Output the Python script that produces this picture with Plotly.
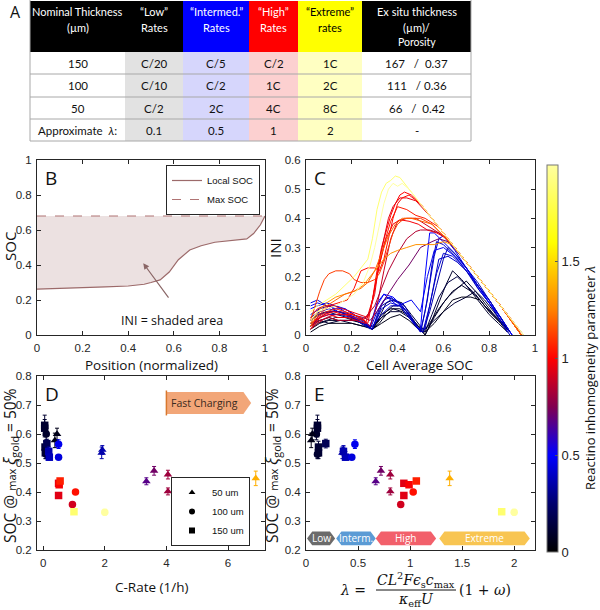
import plotly.graph_objects as go
from plotly.colors import sample_colorscale

# ------------------------------------------------------------------ data
table_header = [["Nominal Thickness", "(µm)"], ["“Low”", "Rates"], ["“Intermed.”", "Rates"],
                ["“High”", "Rates"], ["“Extreme”", "rates"], ["Ex situ thickness", "(µm)/", "Porosity"]]
table_rows = [["150", "C/20", "C/5", "C/2", "1C", "167   /  0.37"],
              ["100", "C/10", "C/2", "1C", "2C", "111   / 0.36"],
              ["50", "C/2", "2C", "4C", "8C", "66   /  0.42"],
              ["Approximate  <i>λ</i>:", "0.1", "0.5", "1", "2", "-"]]

b_position = [0, 0.1, 0.2, 0.3, 0.4, 0.47, 0.5, 0.54, 0.58, 0.62, 0.67, 0.72, 0.78, 0.85, 0.92, 0.95, 0.98, 1.0]
b_local_soc = [0.262, 0.265, 0.27, 0.275, 0.28, 0.29, 0.30, 0.315, 0.36, 0.43, 0.486, 0.51, 0.53, 0.54, 0.549, 0.58, 0.63, 0.68]
b_max_soc = 0.68

c_lambda = [0.10, 0.08, 0.12, 0.05, 0.15, 0.09,
            0.45, 0.38, 0.50, 0.42, 0.36, 0.48, 0.40,
            0.72,
            1.00, 0.95, 1.05, 0.90, 0.98, 0.85, 1.12, 1.02,
            1.30, 1.20,
            1.88, 2.00]
c_soc = [
    [0.02, 0.05, 0.09, 0.13, 0.17, 0.21, 0.25, 0.29, 0.32, 0.35, 0.38, 0.41, 0.44, 0.47, 0.50, 0.52, 0.55, 0.58, 0.61, 0.64, 0.68, 0.72, 0.76, 0.80, 0.84, 0.88],
    [0.02, 0.06, 0.10, 0.14, 0.18, 0.22, 0.26, 0.29, 0.32, 0.35, 0.38, 0.42, 0.46, 0.49, 0.51, 0.54, 0.58, 0.62, 0.66, 0.70, 0.74, 0.78, 0.82, 0.86, 0.89],
    [0.02, 0.06, 0.10, 0.15, 0.20, 0.25, 0.29, 0.33, 0.37, 0.41, 0.45, 0.49, 0.52, 0.56, 0.60, 0.65, 0.70, 0.74, 0.78, 0.82, 0.86, 0.89],
    [0.02, 0.06, 0.10, 0.15, 0.20, 0.25, 0.29, 0.33, 0.37, 0.41, 0.45, 0.49, 0.52, 0.56, 0.60, 0.64, 0.68, 0.72, 0.76, 0.80, 0.85, 0.88],
    [0.02, 0.05, 0.09, 0.13, 0.18, 0.23, 0.27, 0.29, 0.32, 0.35, 0.38, 0.42, 0.46, 0.50, 0.52, 0.55, 0.58, 0.62, 0.66, 0.70, 0.74, 0.78, 0.82, 0.86, 0.89],
    [0.02, 0.06, 0.10, 0.15, 0.20, 0.25, 0.29, 0.33, 0.37, 0.41, 0.45, 0.49, 0.52, 0.56, 0.60, 0.64, 0.68, 0.72, 0.76, 0.80, 0.84, 0.88],
    [0.02, 0.05, 0.09, 0.13, 0.17, 0.21, 0.25, 0.28, 0.31, 0.34, 0.37, 0.40, 0.44, 0.48, 0.50, 0.52, 0.54, 0.56, 0.58, 0.60, 0.65, 0.70, 0.75, 0.80, 0.85, 0.90],
    [0.02, 0.06, 0.10, 0.14, 0.18, 0.22, 0.26, 0.29, 0.32, 0.35, 0.39, 0.43, 0.47, 0.50, 0.53, 0.55, 0.57, 0.60, 0.65, 0.70, 0.75, 0.80, 0.85, 0.89],
    [0.02, 0.05, 0.09, 0.13, 0.17, 0.21, 0.25, 0.28, 0.31, 0.34, 0.38, 0.42, 0.45, 0.48, 0.50, 0.52, 0.54, 0.56, 0.60, 0.65, 0.70, 0.75, 0.80, 0.85, 0.90],
    [0.02, 0.06, 0.10, 0.14, 0.18, 0.22, 0.26, 0.29, 0.33, 0.37, 0.41, 0.45, 0.49, 0.51, 0.54, 0.57, 0.60, 0.64, 0.68, 0.72, 0.76, 0.80, 0.84, 0.88],
    [0.02, 0.06, 0.10, 0.15, 0.20, 0.25, 0.29, 0.33, 0.37, 0.41, 0.45, 0.49, 0.51, 0.54, 0.57, 0.60, 0.62, 0.66, 0.70, 0.75, 0.80, 0.85, 0.89],
    [0.02, 0.05, 0.09, 0.13, 0.17, 0.21, 0.25, 0.28, 0.31, 0.34, 0.37, 0.40, 0.43, 0.46, 0.48, 0.50, 0.53, 0.56, 0.60, 0.65, 0.70, 0.75, 0.80, 0.85, 0.90],
    [0.02, 0.06, 0.10, 0.15, 0.20, 0.25, 0.29, 0.33, 0.37, 0.41, 0.45, 0.49, 0.52, 0.55, 0.58, 0.62, 0.66, 0.70, 0.75, 0.80, 0.85, 0.89],
    [0.02, 0.06, 0.10, 0.15, 0.20, 0.25, 0.28, 0.31, 0.35, 0.40, 0.45, 0.50, 0.55, 0.58, 0.62, 0.70, 0.80, 0.90, 0.95],
    [0.02, 0.05, 0.08, 0.12, 0.16, 0.20, 0.24, 0.27, 0.29, 0.31, 0.33, 0.35, 0.37, 0.39, 0.41, 0.43, 0.46, 0.50, 0.55, 0.60, 0.65, 0.70, 0.75, 0.80, 0.85, 0.90, 0.94],
    [0.02, 0.05, 0.08, 0.12, 0.16, 0.20, 0.24, 0.27, 0.30, 0.32, 0.34, 0.36, 0.38, 0.41, 0.44, 0.48, 0.55, 0.65, 0.75, 0.85, 0.94],
    [0.02, 0.05, 0.09, 0.13, 0.17, 0.21, 0.25, 0.28, 0.31, 0.34, 0.37, 0.40, 0.44, 0.48, 0.52, 0.58, 0.65, 0.75, 0.85, 0.94],
    [0.02, 0.05, 0.09, 0.13, 0.17, 0.21, 0.25, 0.28, 0.31, 0.34, 0.37, 0.40, 0.44, 0.48, 0.52, 0.56, 0.60, 0.65, 0.75, 0.85, 0.94],
    [0.02, 0.06, 0.10, 0.14, 0.18, 0.22, 0.26, 0.29, 0.32, 0.35, 0.38, 0.41, 0.45, 0.49, 0.53, 0.57, 0.62, 0.70, 0.80, 0.90, 0.94],
    [0.02, 0.06, 0.10, 0.14, 0.18, 0.22, 0.26, 0.30, 0.33, 0.36, 0.40, 0.44, 0.48, 0.50, 0.54, 0.58, 0.64, 0.72, 0.80, 0.88, 0.94],
    [0.02, 0.04, 0.06, 0.08, 0.10, 0.13, 0.16, 0.19, 0.21, 0.24, 0.27, 0.30, 0.32, 0.34, 0.36, 0.38, 0.40, 0.43, 0.46, 0.50, 0.55, 0.65, 0.75, 0.85, 0.94],
    [0.02, 0.06, 0.10, 0.14, 0.18, 0.21, 0.24, 0.27, 0.30, 0.32, 0.34, 0.36, 0.38, 0.40, 0.42, 0.45, 0.50, 0.58, 0.65, 0.75, 0.85, 0.94],
    [0.02, 0.05, 0.09, 0.13, 0.17, 0.21, 0.25, 0.28, 0.31, 0.34, 0.37, 0.40, 0.44, 0.48, 0.52, 0.56, 0.60, 0.64, 0.70, 0.78, 0.86, 0.94],
    [0.02, 0.05, 0.09, 0.13, 0.17, 0.21, 0.24, 0.27, 0.30, 0.33, 0.36, 0.39, 0.42, 0.46, 0.50, 0.55, 0.65, 0.75, 0.85, 0.94],
    [0.02, 0.05, 0.09, 0.13, 0.17, 0.21, 0.25, 0.27, 0.29, 0.31, 0.33, 0.35, 0.37, 0.39, 0.41, 0.43, 0.46, 0.50, 0.55, 0.65, 0.75, 0.85, 0.95],
    [0.02, 0.05, 0.09, 0.13, 0.17, 0.21, 0.25, 0.28, 0.30, 0.32, 0.34, 0.36, 0.38, 0.40, 0.42, 0.45, 0.50, 0.60, 0.70, 0.80, 0.90, 0.95],
]
c_ini = [
    [0.02, 0.04, 0.05, 0.06, 0.06, 0.05, 0.04, 0.02, 0.05, 0.08, 0.10, 0.10, 0.08, 0.05, 0.02, 0.00, 0.05, 0.11, 0.17, 0.22, 0.19, 0.15, 0.11, 0.07, 0.04, 0.01],
    [0.03, 0.05, 0.06, 0.05, 0.05, 0.05, 0.03, 0.02, 0.04, 0.07, 0.09, 0.08, 0.06, 0.02, 0.01, 0.04, 0.09, 0.13, 0.16, 0.185, 0.15, 0.11, 0.07, 0.04, 0.01],
    [0.04, 0.05, 0.04, 0.05, 0.04, 0.03, 0.03, 0.06, 0.08, 0.08, 0.06, 0.03, 0.02, 0.05, 0.08, 0.11, 0.13, 0.15, 0.12, 0.08, 0.04, 0.01],
    [0.01, 0.03, 0.04, 0.04, 0.04, 0.03, 0.02, 0.04, 0.06, 0.07, 0.05, 0.02, 0.01, 0.04, 0.08, 0.12, 0.13, 0.13, 0.12, 0.08, 0.04, 0.01],
    [0.05, 0.07, 0.08, 0.07, 0.06, 0.05, 0.03, 0.02, 0.06, 0.11, 0.12, 0.11, 0.07, 0.03, 0.01, 0.07, 0.13, 0.18, 0.20, 0.17, 0.14, 0.10, 0.07, 0.04, 0.01],
    [0.02, 0.04, 0.05, 0.05, 0.05, 0.04, 0.02, 0.07, 0.09, 0.09, 0.07, 0.03, 0.00, 0.06, 0.11, 0.15, 0.17, 0.15, 0.12, 0.08, 0.05, 0.02],
    [0.11, 0.12, 0.10, 0.10, 0.09, 0.07, 0.05, 0.02, 0.08, 0.12, 0.13, 0.11, 0.08, 0.03, 0.01, 0.08, 0.18, 0.27, 0.33, 0.34, 0.29, 0.23, 0.17, 0.12, 0.06, 0.00],
    [0.07, 0.09, 0.10, 0.08, 0.07, 0.06, 0.04, 0.02, 0.09, 0.13, 0.12, 0.10, 0.05, 0.01, 0.12, 0.24, 0.32, 0.31, 0.27, 0.22, 0.16, 0.11, 0.05, 0.00],
    [0.09, 0.10, 0.11, 0.10, 0.08, 0.06, 0.04, 0.03, 0.10, 0.14, 0.13, 0.10, 0.07, 0.03, 0.02, 0.20, 0.35, 0.35, 0.32, 0.28, 0.23, 0.17, 0.11, 0.06, 0.00],
    [0.06, 0.08, 0.09, 0.08, 0.07, 0.05, 0.03, 0.02, 0.09, 0.11, 0.10, 0.06, 0.02, 0.01, 0.10, 0.21, 0.28, 0.27, 0.24, 0.20, 0.15, 0.11, 0.06, 0.01],
    [0.05, 0.07, 0.08, 0.08, 0.06, 0.04, 0.02, 0.10, 0.12, 0.11, 0.07, 0.02, 0.01, 0.08, 0.17, 0.26, 0.30, 0.27, 0.23, 0.18, 0.12, 0.06, 0.01],
    [0.10, 0.11, 0.10, 0.09, 0.09, 0.07, 0.05, 0.03, 0.11, 0.14, 0.12, 0.10, 0.11, 0.12, 0.10, 0.08, 0.20, 0.29, 0.30, 0.27, 0.23, 0.17, 0.11, 0.06, 0.00],
    [0.04, 0.06, 0.07, 0.07, 0.06, 0.04, 0.03, 0.07, 0.10, 0.10, 0.06, 0.02, 0.02, 0.14, 0.26, 0.27, 0.25, 0.22, 0.17, 0.12, 0.06, 0.01],
    [0.03, 0.06, 0.08, 0.08, 0.07, 0.06, 0.05, 0.08, 0.13, 0.19, 0.24, 0.30, 0.32, 0.33, 0.32, 0.25, 0.15, 0.05, 0.00],
    [0.02, 0.05, 0.07, 0.08, 0.07, 0.07, 0.06, 0.04, 0.12, 0.22, 0.30, 0.36, 0.41, 0.45, 0.48, 0.49, 0.48, 0.45, 0.40, 0.35, 0.30, 0.25, 0.20, 0.15, 0.10, 0.05, 0.00],
    [0.06, 0.09, 0.10, 0.10, 0.09, 0.08, 0.07, 0.06, 0.14, 0.25, 0.33, 0.40, 0.44, 0.47, 0.47, 0.46, 0.40, 0.30, 0.20, 0.10, 0.00],
    [0.03, 0.06, 0.08, 0.09, 0.08, 0.07, 0.05, 0.08, 0.20, 0.31, 0.39, 0.44, 0.43, 0.41, 0.40, 0.37, 0.30, 0.20, 0.10, 0.00],
    [0.02, 0.04, 0.06, 0.07, 0.07, 0.06, 0.05, 0.03, 0.10, 0.22, 0.33, 0.39, 0.40, 0.40, 0.38, 0.36, 0.34, 0.30, 0.20, 0.10, 0.00],
    [0.04, 0.06, 0.07, 0.06, 0.06, 0.05, 0.04, 0.12, 0.24, 0.33, 0.38, 0.395, 0.39, 0.38, 0.36, 0.35, 0.33, 0.25, 0.15, 0.05, 0.00],
    [0.03, 0.05, 0.06, 0.05, 0.05, 0.05, 0.06, 0.10, 0.16, 0.22, 0.28, 0.33, 0.355, 0.36, 0.36, 0.35, 0.31, 0.23, 0.15, 0.07, 0.00],
    [0.05, 0.10, 0.15, 0.19, 0.21, 0.22, 0.22, 0.21, 0.19, 0.18, 0.18, 0.19, 0.21, 0.25, 0.30, 0.35, 0.38, 0.40, 0.40, 0.40, 0.38, 0.30, 0.20, 0.10, 0.00],
    [0.03, 0.07, 0.10, 0.11, 0.12, 0.16, 0.22, 0.23, 0.23, 0.22, 0.26, 0.33, 0.40, 0.45, 0.47, 0.48, 0.45, 0.37, 0.30, 0.20, 0.10, 0.00],
    [0.04, 0.08, 0.11, 0.13, 0.14, 0.15, 0.17, 0.20, 0.23, 0.26, 0.28, 0.29, 0.30, 0.31, 0.31, 0.31, 0.32, 0.31, 0.25, 0.17, 0.09, 0.00],
    [0.03, 0.07, 0.10, 0.12, 0.14, 0.15, 0.16, 0.18, 0.22, 0.28, 0.34, 0.38, 0.40, 0.40, 0.39, 0.38, 0.30, 0.20, 0.10, 0.00],
    [0.08, 0.10, 0.12, 0.14, 0.17, 0.20, 0.24, 0.26, 0.33, 0.43, 0.49, 0.52, 0.53, 0.545, 0.54, 0.52, 0.49, 0.45, 0.40, 0.30, 0.20, 0.10, 0.00],
    [0.05, 0.08, 0.09, 0.10, 0.12, 0.14, 0.18, 0.24, 0.30, 0.38, 0.45, 0.50, 0.52, 0.51, 0.52, 0.50, 0.45, 0.35, 0.25, 0.15, 0.05, 0.00],
]

pt_rate = [0.05, 0.05, 0.06, 0.07, 0.10, 0.10, 0.12, 0.45, 0.38, 0.18, 0.20, 0.50, 0.50, 1.90, 1.92,
           3.35, 3.60, 4.05, 4.05, 0.95, 1.05, 0.50, 0.50, 0.52, 0.55, 6.90, 1.00, 2.00]
pt_lambda = [0.11, 0.11, 0.12, 0.12, 0.10, 0.11, 0.19, 0.06, 0.05, 0.36, 0.38, 0.47, 0.44, 0.35, 0.36,
             0.67, 0.72, 0.81, 0.81, 0.91, 1.03, 0.94, 0.94, 0.99, 1.06, 1.38, 1.88, 2.00]
pt_soc = [0.630, 0.620, 0.555, 0.535, 0.600, 0.530, 0.567, 0.600, 0.578, 0.540, 0.520, 0.565, 0.520, 0.535, 0.545,
          0.437, 0.473, 0.460, 0.402, 0.357, 0.400, 0.430, 0.388, 0.425, 0.438, 0.447, 0.332, 0.330]
pt_err = [0.035, 0.030, 0.020, 0.020, 0.020, 0.015, 0.015, 0.020, 0.025, 0.015, 0.010, 0.015, 0.008, 0.020, 0.015,
          0.012, 0.015, 0.015, 0.012, 0.008, 0.006, 0.006, 0.008, 0.006, 0.008, 0.025, 0.008, 0.010]
pt_thick = [150, 150, 150, 150, 100, 100, 150, 50, 50, 150, 150, 100, 100, 50, 50,
            50, 50, 50, 50, 100, 100, 150, 150, 150, 150, 50, 150, 100]

thick_names = ["50 um", "100 um", "150 um"]
thick_values = [50, 100, 150]
thick_symbols = ["triangle-up", "circle", "square"]

band_names = ["Low", "Interm.", "High", "Extreme"]
band_start = [0.01, 0.29, 0.67, 1.28]
band_end = [0.28, 0.67, 1.25, 2.15]
band_colors = ["#6b6b6b", "#5b9bd5", "#f2606b", "#f8c552"]

# ------------------------------------------------------------------ styling helpers
cscale = [[0, "rgb(0,0,0)"], [0.125, "rgb(0,0,110)"], [0.25, "rgb(0,0,255)"], [0.375, "rgb(128,0,80)"],
          [0.5, "rgb(255,0,0)"], [0.625, "rgb(255,128,0)"], [0.8, "rgb(255,255,0)"], [1, "rgb(255,255,160)"]]
LMAX = 2.0


def lam_color(v):
    return sample_colorscale(cscale, [min(max(v / LMAX, 0), 1)])[0]


W, H = 600, 610


def px(x):
    return x / W


def py(y):
    return 1 - y / H


TICKFONT = dict(family="Liberation Sans, Arial", size=11.5, color="#262626")
TITLEFONT = dict(family="Open Sans", size=13.5, color="#111111")
TABFONT = "Lato, Open Sans"

fig = go.Figure()

# ------------------------------------------------------------------ panel B
fig.add_trace(go.Scatter(x=[b_position[0], b_position[-1]], y=[b_max_soc, b_max_soc], mode="lines",
                         line=dict(color="#b07474", width=1.2, dash="dash"), name="Max SOC",
                         legendrank=2, xaxis="x", yaxis="y"))
fig.add_trace(go.Scatter(x=b_position, y=b_local_soc, mode="lines", line=dict(width=0),
                         fill="tonexty", fillcolor="rgba(220,200,200,0.55)", showlegend=False,
                         hoverinfo="skip", xaxis="x", yaxis="y"))
fig.add_trace(go.Scatter(x=b_position, y=b_local_soc, mode="lines", line=dict(color="#9c6a6a", width=1.2),
                         name="Local SOC", legendrank=1, xaxis="x", yaxis="y"))

# ------------------------------------------------------------------ panel C
for lam, xs, ys in zip(c_lambda, c_soc, c_ini):
    fig.add_trace(go.Scatter(x=xs, y=ys, mode="lines", line=dict(color=lam_color(lam), width=1),
                             showlegend=False, xaxis="x2", yaxis="y2", hoverinfo="skip"))

# ------------------------------------------------------------------ panels D & E
sym = dict(zip(thick_values, thick_symbols))
for r, lam, s, e, t in zip(pt_rate, pt_lambda, pt_soc, pt_err, pt_thick):
    col = lam_color(lam)
    for xv, xa, ya in [(r, "x3", "y3"), (lam, "x4", "y4")]:
        fig.add_trace(go.Scatter(x=[xv], y=[s], mode="markers",
                                 marker=dict(symbol=sym[t], size=7.5, color=col, line=dict(width=0)),
                                 error_y=dict(type="data", array=[e], color=col, thickness=1, width=2),
                                 showlegend=False, xaxis=xa, yaxis=ya))

for name, tv, sy in zip(thick_names, thick_values, thick_symbols):
    fig.add_trace(go.Scatter(x=[None], y=[None], mode="markers", marker=dict(symbol=sy, size=6, color="black"),
                             name=name, legend="legend2", xaxis="x3", yaxis="y3"))

# hidden trace carrying the colour axis
fig.add_trace(go.Scatter(x=[pt_lambda[0]], y=[0.0], mode="markers",
                         marker=dict(color=[pt_lambda[0]], coloraxis="coloraxis", size=1),
                         showlegend=False, xaxis="x4", yaxis="y4", hoverinfo="skip"))

# ------------------------------------------------------------------ axes
def ax(domain, rng, dtick, anchor, tick0=0):
    return dict(domain=domain, range=rng, dtick=dtick, tick0=tick0, anchor=anchor, showline=True,
                mirror="allticks", linecolor="#262626", linewidth=1, ticks="inside", ticklen=4,
                tickcolor="#262626", showgrid=False, zeroline=False, tickfont=TICKFONT,
                automargin=False, ticklabelstandoff=2)


xB = [px(37), px(265)]
xC = [px(306), px(535)]
yTop = [py(335), py(160)]
yBot = [py(550), py(376)]

fig.update_layout(
    xaxis=ax(xB, [0, 1], 0.2, "y"),
    yaxis=ax(yTop, [0, 1], 0.2, "x"),
    xaxis2=ax(xC, [0, 1], 0.2, "y2"),
    yaxis2=ax(yTop, [0, 0.6], 0.1, "x2"),
    xaxis3=ax(xB, [-0.2, 7.2], 2, "y3"),
    yaxis3=ax(yBot, [0.2, 0.8], 0.1, "x3"),
    xaxis4=ax(xC, [0, 2.2], 0.5, "y4"),
    yaxis4=ax(yBot, [0.2, 0.8], 0.1, "x4"),
)
fig.update_layout(
    width=W, height=H, margin=dict(l=0, r=0, t=0, b=0), template="none",
    paper_bgcolor="white", plot_bgcolor="white",
    coloraxis=dict(colorscale=cscale, cmin=0, cmax=LMAX,
                   colorbar=dict(x=px(547), xanchor="left", y=py(552), yanchor="bottom",
                                 len=(552 - 165) / H, lenmode="fraction", thickness=11,
                                 xpad=0, ypad=0, outlinewidth=1, outlinecolor="#777777",
                                 tickvals=[0, 0.5, 1, 1.5], ticktext=["0", "0.5", "1", "1.5"],
                                 ticks="inside", ticklen=3, tickcolor="#555555",
                                 tickfont=dict(family="Liberation Sans, Arial", size=13, color="#222222"))),
    legend=dict(x=px(260), y=py(165), xanchor="right", yanchor="top", bordercolor="#262626", borderwidth=1,
                bgcolor="white", font=dict(family="Liberation Sans, Arial", size=9.5, color="#111"),
                itemwidth=30, tracegroupgap=0, traceorder="normal"),
    legend2=dict(x=px(250), y=py(546), xanchor="right", yanchor="bottom", bordercolor="#262626", borderwidth=1,
                 bgcolor="white", font=dict(family="Liberation Sans, Arial", size=9.5, color="#111"),
                 itemwidth=30, tracegroupgap=0, traceorder="normal"),
)

shapes = []
annos = []

# ------------------------------------------------------------------ table A
col_edges = [30, 125, 183, 249, 298, 362, 471]
head_fill = ["black", "black", "#0000ff", "#ff0000", "#ffff00", "black"]
head_font = ["white", "white", "white", "white", "black", "white"]
body_fill = ["white", "#e2e2e2", "#d6d6fc", "#fcd0d0", "#ffffc2", "white"]
row_edges = [52, 74, 97, 119, 141]

for i in range(6):
    x0, x1 = col_edges[i], col_edges[i + 1]
    shapes.append(dict(type="rect", xref="paper", yref="paper", x0=px(x0), x1=px(x1), y0=py(52), y1=py(1),
                       fillcolor=head_fill[i], line=dict(width=0), layer="below"))
    shapes.append(dict(type="rect", xref="paper", yref="paper", x0=px(x0), x1=px(x1), y0=py(141), y1=py(52),
                       fillcolor=body_fill[i], line=dict(width=0), layer="below"))
    cx = (x0 + x1) / 2
    lines = table_header[i]
    ys = [12, 27, 42]
    for k, txt in enumerate(lines):
        annos.append(dict(xref="paper", yref="paper", x=px(cx), y=py(ys[k]), text=txt, showarrow=False,
                          font=dict(family=TABFONT, size=11 if k < 2 else 10.5, color=head_font[i]),
                          xanchor="center", yanchor="middle"))
    for r, row in enumerate(table_rows):
        yc = (row_edges[r] + row_edges[r + 1]) / 2
        annos.append(dict(xref="paper", yref="paper", x=px(cx), y=py(yc), text=row[i], showarrow=False,
                          font=dict(family=TABFONT, size=11.5, color="#111111"),
                          xanchor="center", yanchor="middle"))
for ye in row_edges[1:]:
    shapes.append(dict(type="line", xref="paper", yref="paper", x0=px(30), x1=px(471), y0=py(ye), y1=py(ye),
                       line=dict(color="#a8a8a8", width=1)))
for xe in [30, 471]:
    shapes.append(dict(type="line", xref="paper", yref="paper", x0=px(xe), x1=px(xe), y0=py(141), y1=py(0),
                       line=dict(color="#a8a8a8", width=1)))
annos.append(dict(xref="paper", yref="paper", x=px(15), y=py(12), text="A", showarrow=False,
                  font=dict(family="Open Sans", size=16, color="#111"), xanchor="center", yanchor="middle"))

# ------------------------------------------------------------------ panel letters
for letter, xa, ya in [("B", "x", "y"), ("C", "x2", "y2"), ("D", "x3", "y3"), ("E", "x4", "y4")]:
    annos.append(dict(xref=xa + " domain", yref=ya + " domain", x=0.025, y=0.985, text=letter, showarrow=False,
                      xanchor="left", yanchor="top", font=dict(family="Open Sans", size=19, color="#111")))

# ------------------------------------------------------------------ axis titles
annos += [
    dict(xref="paper", yref="paper", x=px(151), y=py(365), text="Position (normalized)", showarrow=False,
         font=TITLEFONT, xanchor="center", yanchor="middle"),
    dict(xref="paper", yref="paper", x=px(420), y=py(365), text="Cell Average SOC", showarrow=False,
         font=TITLEFONT, xanchor="center", yanchor="middle"),
    dict(xref="paper", yref="paper", x=px(152), y=py(587), text="C-Rate (1/h)", showarrow=False,
         font=TITLEFONT, xanchor="center", yanchor="middle"),
    dict(xref="paper", yref="paper", x=px(10), y=py(247), text="SOC", showarrow=False, textangle=-90,
         font=dict(family="Open Sans", size=15, color="#111"), xanchor="center", yanchor="middle"),
    dict(xref="paper", yref="paper", x=px(275), y=py(248), text="INI", showarrow=False, textangle=-90,
         font=dict(family="Open Sans", size=15, color="#111"), xanchor="center", yanchor="middle"),
]
soc_title = "SOC @ <span style='font-size:11px'>max</span> <i>ξ</i><sub>gold</sub> = 50%"
for xx in [10, 272]:
    annos.append(dict(xref="paper", yref="paper", x=px(xx), y=py(466), text=soc_title, showarrow=False,
                      textangle=-90, font=dict(family="Open Sans", size=15.5, color="#111"),
                      xanchor="center", yanchor="middle"))
annos.append(dict(xref="paper", yref="paper", x=px(590), y=py(378), text="Reactino inhomogeneity parameter <i>λ</i>",
                  showarrow=False, textangle=-90, font=dict(family="Open Sans", size=13, color="#111"),
                  xanchor="center", yanchor="middle"))

# formula under E
MF = dict(family="DejaVu Serif", size=14, color="#111")
annos += [
    dict(xref="paper", yref="paper", x=px(368), y=py(590), text="<i>λ</i> =", showarrow=False, font=MF,
         xanchor="right", yanchor="middle"),
    dict(xref="paper", yref="paper", x=px(416), y=py(580), text="<i>CL</i><sup>2</sup><i>Fϵ</i><sub>s</sub><i>c</i><sub>max</sub>",
         showarrow=False, font=MF, xanchor="center", yanchor="middle"),
    dict(xref="paper", yref="paper", x=px(416), y=py(600), text="<i>κ</i><sub>eff</sub><i>U</i>",
         showarrow=False, font=MF, xanchor="center", yanchor="middle"),
    dict(xref="paper", yref="paper", x=px(457), y=py(590), text="(1 + <i>ω</i>)", showarrow=False, font=MF,
         xanchor="left", yanchor="middle"),
]
shapes.append(dict(type="line", xref="paper", yref="paper", x0=px(376), x1=px(456), y0=py(590), y1=py(590),
                   line=dict(color="#111", width=1)))

# ------------------------------------------------------------------ B annotation
annos.append(dict(xref="x", yref="y", x=0.466, y=0.41, ax=0.59, ay=0.19, axref="x", ayref="y",
                  text=" ", showarrow=True, arrowhead=2, arrowsize=1, arrowwidth=1.2, arrowcolor="#8a6666"))
annos.append(dict(xref="x", yref="y", x=0.59, y=0.085, text="INI = shaded area", showarrow=False,
                  font=dict(family="Open Sans", size=12.5, color="#111"), xanchor="center", yanchor="middle"))

# ------------------------------------------------------------------ D fast charging arrow
shapes.append(dict(type="path", xref="x3", yref="y3",
                   path="M 4,0.745 L 6.5,0.745 L 6.75,0.707 L 6.5,0.669 L 4,0.669 Z",
                   fillcolor="#f2a678", line=dict(width=0)))
shapes.append(dict(type="line", xref="x3", yref="y3", x0=4, x1=4, y0=0.664, y1=0.75,
                   line=dict(color="#d9782e", width=1.5)))
annos.append(dict(xref="x3", yref="y3", x=4.1, y=0.707, text="Fast Charging", showarrow=False,
                  xanchor="left", yanchor="middle", font=dict(family="Open Sans", size=10.5, color="#3a2a20")))

# ------------------------------------------------------------------ E bands
for nm, b0, b1, bc in zip(band_names, band_start, band_end, band_colors):
    d = 0.05
    yl, ym, yh = 0.216, 0.24, 0.264
    shapes.append(dict(type="path", xref="x4", yref="y4",
                       path=f"M {b0},{ym} L {b0+d},{yh} L {b1-d},{yh} L {b1},{ym} L {b1-d},{yl} L {b0+d},{yl} Z",
                       fillcolor=bc, line=dict(width=0)))
    annos.append(dict(xref="x4", yref="y4", x=(b0 + b1) / 2, y=ym, text=nm, showarrow=False,
                      font=dict(family="Open Sans", size=10, color="white"), xanchor="center", yanchor="middle"))

fig.update_layout(shapes=shapes, annotations=annos)
fig.write_html("out.html")
